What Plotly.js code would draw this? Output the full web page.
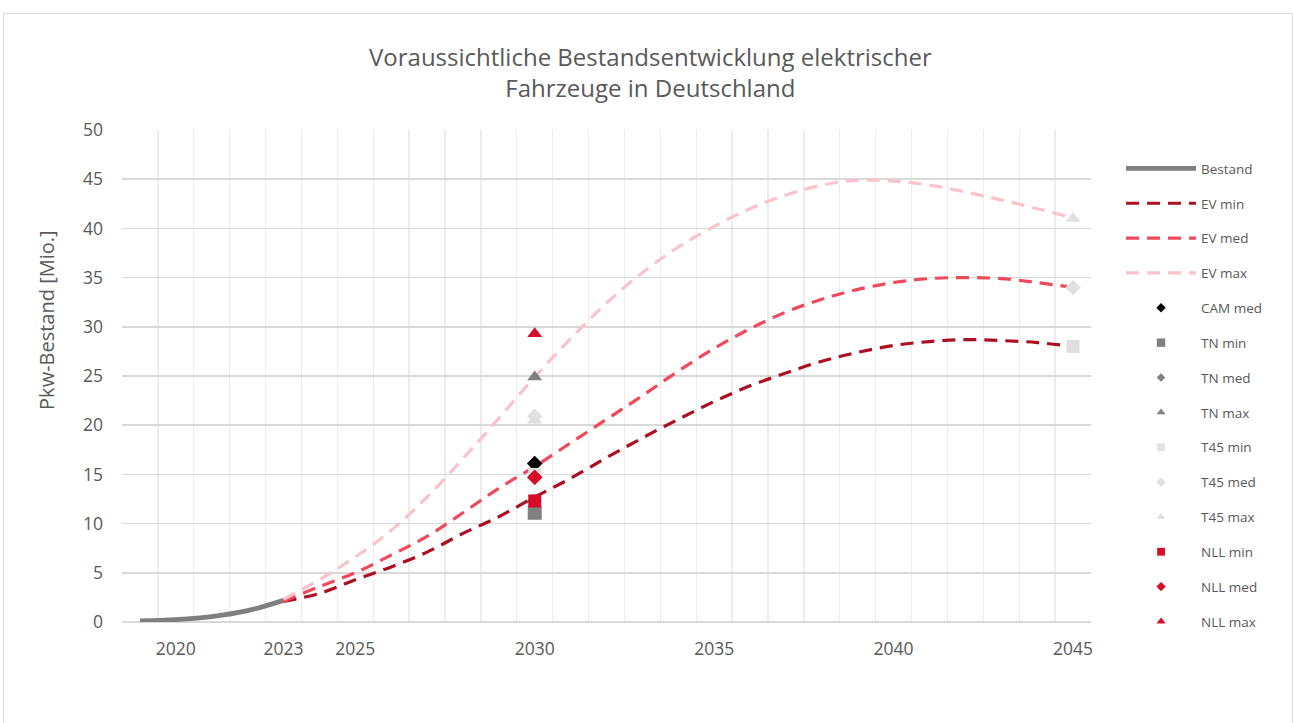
<!DOCTYPE html>
<html>
<head>
<meta charset="utf-8">
<script src="https://cdn.plot.ly/plotly-3.0.1.min.js"></script>
<style>
html,body{margin:0;padding:0;background:#fff;}
#chart{position:absolute;left:0;top:0;width:1293px;height:723px;}
#frame{position:absolute;left:3px;top:13px;width:1290px;height:712px;border:1px solid #d9d9d9;box-sizing:border-box;pointer-events:none;}
</style>
</head>
<body>
<div id="chart"></div>
<div id="frame"></div>
<script>
// ---- data ----
const bestandYears = [2019, 2020, 2021, 2022, 2023];
const bestandValues = [0.1, 0.25, 0.55, 1.15, 2.2];

const evYears = [2023, 2024, 2025, 2026, 2027, 2028, 2029, 2030, 2031, 2032, 2033, 2034,
                 2035, 2036, 2037, 2038, 2039, 2040, 2041, 2042, 2043, 2044, 2045];
const evMin = [2.1, 2.9, 4.3, 5.6, 7.1, 9.0, 10.7, 12.7, 14.6, 16.7, 18.7, 20.6,
               22.4, 24.0, 25.3, 26.5, 27.4, 28.1, 28.5, 28.7, 28.6, 28.4, 28.0];
const evMed = [2.1, 3.6, 5.0, 6.8, 8.7, 11.1, 13.6, 15.8, 18.2, 20.6, 23.0, 25.5,
               27.8, 29.8, 31.5, 32.8, 33.8, 34.5, 34.9, 35.0, 34.9, 34.5, 34.0];
const evMax = [2.3, 4.3, 6.6, 9.3, 12.7, 16.6, 20.7, 24.9, 28.8, 32.4, 35.5, 38.1,
               40.2, 42.0, 43.4, 44.4, 44.9, 44.8, 44.4, 43.7, 42.9, 42.0, 41.1];

const yr2030 = [2030];
const yr2030and2045 = [2030, 2045];
const camMed = [16.1];
const tnMin = [11.1];
const tnMed = [12.3];
const tnMax = [24.9];
const t45Min = [15.0, 28.0];
const t45Med = [20.9, 34.0];
const t45Max = [20.5, 41.0];
const nllMin = [12.3];
const nllMed = [14.7];
const nllMax = [29.3];

const xTickVals = [2020, 2023, 2025, 2030, 2035, 2040, 2045];
const xTickText = ['2020', '2023', '2025', '2030', '2035', '2040', '2045'];

// ---- traces ----
const dash = '13px,8px';
function lineTrace(name, x, y, color, width, dashStyle, grp) {
  return {type: 'scatter', mode: 'lines', name: name, x: x, y: y, legendgroup: grp,
          line: {color: color, width: width, dash: dashStyle, shape: 'spline', smoothing: 1}};
}
function markTrace(name, x, y, color, symbol, size, grp) {
  return {type: 'scatter', mode: 'markers', name: name, x: x, y: y, legendgroup: grp,
          marker: {color: color, symbol: symbol, size: size}};
}
const traces = [
  lineTrace('Bestand', bestandYears, bestandValues, '#7f7f7f', 4.8, 'solid', 'g1'),
  lineTrace('EV min', evYears, evMin, '#ad0f22', 3.2, dash, 'g2'),
  lineTrace('EV med', evYears, evMed, '#ef4a5b', 3.2, dash, 'g3'),
  lineTrace('EV max', evYears, evMax, '#f9c3c9', 3.2, dash, 'g4'),
  markTrace('CAM med', yr2030, camMed, '#000000', 'diamond', 12, 'g5'),
  markTrace('TN min', yr2030, tnMin, '#808080', 'square', 14, 'g6'),
  markTrace('TN med', yr2030, tnMed, '#808080', 'diamond', 11, 'g7'),
  markTrace('TN max', yr2030, tnMax, '#808080', 'triangle-up', 13, 'g8'),
  markTrace('T45 min', yr2030and2045, t45Min, '#e0e0e0', 'square', 13, 'g9'),
  markTrace('T45 med', yr2030and2045, t45Med, '#e0e0e0', 'diamond', 12, 'g10'),
  markTrace('T45 max', yr2030and2045, t45Max, '#e0e0e0', 'triangle-up', 13, 'g11'),
  markTrace('NLL min', yr2030, nllMin, '#d50c2a', 'square', 13, 'g12'),
  markTrace('NLL med', yr2030, nllMed, '#d50c2a', 'diamond', 12, 'g13'),
  markTrace('NLL max', yr2030, nllMax, '#d50c2a', 'triangle-up', 13, 'g14'),
  // carrier for the labelled year axis
  {type: 'scatter', mode: 'markers', x: xTickVals, y: xTickVals.map(() => null),
   xaxis: 'x2', showlegend: false, hoverinfo: 'skip', marker: {opacity: 0}}
];

const layout = {
  width: 1293, height: 723,
  paper_bgcolor: '#ffffff', plot_bgcolor: '#ffffff',
  margin: {l: 122, r: 202, t: 130, b: 101},
  font: {family: '"Open Sans", "Noto Sans", sans-serif', color: '#595959'},
  title: {
    text: 'Voraussichtliche Bestandsentwicklung elektrischer<br>Fahrzeuge in Deutschland',
    font: {size: 24, color: '#595959'},
    x: 0.503, xanchor: 'center', xref: 'container', y: 0.909, yanchor: 'middle', yref: 'container'
  },
  xaxis: {
    range: [2018.5, 2045.5], tickmode: 'linear', tick0: 2018.5, dtick: 1,
    showticklabels: false, showgrid: true, gridcolor: '#ececec', gridwidth: 1.3,
    zeroline: false, showline: false, ticks: '', fixedrange: true
  },
  xaxis2: {
    overlaying: 'x', side: 'bottom', anchor: 'y',
    range: [2018.5, 2045.5], tickmode: 'array', tickvals: xTickVals, ticktext: xTickText,
    showgrid: false, zeroline: false, showline: false, ticks: '', ticklabelstandoff: 14,
    tickfont: {size: 17.5, color: '#595959'}, fixedrange: true
  },
  yaxis: {
    range: [0, 50], dtick: 5, tick0: 0,
    showgrid: true, gridcolor: '#d9d9d9', gridwidth: 1.5,
    zeroline: true, zerolinecolor: '#d9d9d9', zerolinewidth: 2,
    showline: false, ticks: '', ticklabelstandoff: 18,
    tickfont: {size: 17.5, color: '#595959'},
    fixedrange: true
  },
  annotations: [{
    text: 'Pkw-Bestand [Mio.]', textangle: -90, showarrow: false,
    xref: 'paper', yref: 'paper', x: -0.0774, y: 0.614, xanchor: 'center', yanchor: 'middle',
    font: {size: 20, color: '#595959'}
  }],
  legend: {
    x: 1.031, xanchor: 'left', y: 0.953, yanchor: 'top',
    font: {size: 13.5, color: '#595959'},
    tracegroupgap: 14.3, itemwidth: 70,
    bgcolor: 'rgba(0,0,0,0)'
  },
  showlegend: true
};

Plotly.newPlot('chart', traces, layout, {displayModeBar: false, staticPlot: true}).then(function (gd) {
  // widen legend line samples and shrink legend markers, like the reference legend
  gd.querySelectorAll('.legend .traces').forEach(function (item) {
    item.querySelectorAll('.legendlines path').forEach(function (p) {
      p.setAttribute('d', 'M5,0h70');
    });
    item.querySelectorAll('.legendpoints path.scatterpts').forEach(function (p) {
      p.setAttribute('transform', 'translate(40,0) scale(0.6)');
    });
    const t = item.querySelector('text.legendtext');
    if (t) t.setAttribute('x', 80);
  });
});
</script>
</body>
</html>
